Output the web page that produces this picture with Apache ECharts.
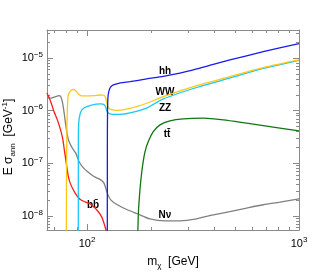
<!DOCTYPE html>
<html><head><meta charset="utf-8">
<script src="https://cdn.jsdelivr.net/npm/echarts@6/dist/echarts.min.js"></script>
<style>html,body{margin:0;padding:0;background:#fff}#c{width:315px;height:275px}</style>
</head><body><div id="c"></div>
<script>
// Axis ranges and tick labels
const xMin = 64.7, xMax = 1000;
const yMin = 5.4e-9, yMax = 3.4e-5;
const xTickLabels = [100, 1000];
const yTickLabels = [1e-8, 1e-7, 1e-6, 1e-5];

// Series data: mass (GeV) and E*sigma_ann (GeV^-1)
const nnMass  = [64.7, 67.4, 71.1, 73.7, 75.1, 76.4, 77.8, 79.3, 80.7, 82.2, 85.2, 88.4, 91.6, 95.0, 100.3, 107.8, 116.0, 120.2, 124.6, 129.3, 138.9, 154.8, 172.6, 198, 233, 274, 329, 394, 472, 566, 678, 813, 1000];
const nnSigma = [1.77e-6, 1.72e-6, 1.85e-6, 1.93e-6, 1.85e-6, 1.48e-6, 9.6e-7, 5.36e-7, 3.46e-7, 2.58e-7, 1.94e-7, 1.56e-7, 1.08e-7, 8.65e-8, 6.96e-8, 5.6e-8, 4.84e-8, 4.19e-8, 2.71e-8, 2.02e-8, 1.63e-8, 1.31e-8, 1.10e-8, 8.8e-9, 8.07e-9, 8.07e-9, 8.8e-9, 1.05e-8, 1.21e-8, 1.41e-8, 1.63e-8, 1.83e-8, 2.11e-8];

const bbMass  = [64.7, 67.4, 69.8, 72.4, 74.5, 76.6, 78.1, 80.2, 81.7, 83.5, 87.7, 92.6, 97.8, 103.3, 111.0, 117.2, 121.5, 124.2];
const bbSigma = [2.17e-6, 1.48e-6, 9.6e-7, 6.67e-7, 4.70e-7, 3.03e-7, 1.80e-7, 8.65e-8, 5.52e-8, 4.06e-8, 2.74e-8, 2.07e-8, 1.85e-8, 1.70e-8, 1.31e-8, 9.6e-9, 6.3e-9, 4.6e-9];

const zzMass  = [90.9, 90.95, 91.2, 91.9, 93.3, 96.7, 104, 116, 120.2, 122.4, 124.6, 129.3, 143, 159.5, 191, 229, 329, 472, 678, 1000];
const zzSigma = [4e-9, 2.78e-7, 5.36e-7, 7.26e-7, 9.44e-7, 1.12e-6, 1.26e-6, 1.34e-6, 1.31e-6, 1.17e-6, 9.44e-7, 8.55e-7, 8.47e-7, 9.04e-7, 1.12e-6, 1.67e-6, 2.75e-6, 4.17e-6, 6.32e-6, 9.04e-6];

const wwMass  = [79.8, 80.0, 80.3, 80.7, 81.3, 82.5, 84.5, 86.3, 88.7, 90.9, 94.3, 100.3, 107.8, 116, 120.2, 122.4, 124.6, 127.3, 131.5, 138.4, 159.5, 191, 229, 329, 472, 678, 1000];
const wwSigma = [4.4e-9, 7.5e-8, 4.3e-7, 1.03e-6, 1.82e-6, 2.21e-6, 2.47e-6, 2.52e-6, 2.37e-6, 2.07e-6, 1.90e-6, 1.90e-6, 1.93e-6, 1.98e-6, 1.96e-6, 1.74e-6, 1.28e-6, 1.10e-6, 1.03e-6, 1.01e-6, 1.10e-6, 1.38e-6, 1.85e-6, 2.98e-6, 4.42e-6, 6.55e-6, 9.16e-6];

const hhMass  = [124.6, 124.65, 124.9, 125.5, 126.9, 129.3, 133.2, 143.8, 159.5, 191, 229, 274, 329, 394, 472, 678, 1000];
const hhSigma = [3e-9, 1.8e-7, 1.03e-6, 1.82e-6, 2.37e-6, 2.82e-6, 3.08e-6, 3.36e-6, 3.55e-6, 4.0e-6, 4.46e-6, 5.13e-6, 6.18e-6, 7.59e-6, 9.16e-6, 1.32e-5, 1.88e-5];

const ttMass  = [173.3, 174.5, 176.4, 179.1, 183, 187.7, 194.5, 205.3, 221, 246, 284, 353, 439, 566, 729, 1000];
const ttSigma = [3e-9, 1.05e-8, 2.18e-8, 4.5e-8, 9.3e-8, 1.67e-7, 2.58e-7, 4.0e-7, 5.36e-7, 6.38e-7, 6.97e-7, 7.18e-7, 6.67e-7, 5.77e-7, 4.97e-7, 4.12e-7];

const seriesNames = ['Nν', 'bb̄', 'ZZ', 'WW', 'hh', 'tt̄'];

// ---------- chart ----------
const FONT = 'Liberation Sans, Arial, Helvetica, sans-serif';
function decadeTicks(lo, hi, minor) {
  const out = [];
  for (let e = -10; e <= 4; e++) {
    const ks = minor ? [2,3,4,5,6,7,8,9] : [1];
    for (const k of ks) {
      const v = k * Math.pow(10, e);
      if (v >= lo * 0.9999 && v <= hi * 1.0001) out.push(v);
    }
  }
  return out;
}
const xMajor = decadeTicks(xMin, xMax, false).map(v => v >= xMax ? xMax : v);
const xMinor = decadeTicks(xMin, xMax, true);
const yMajor = decadeTicks(yMin, yMax, false);
const yMinor = decadeTicks(yMin, yMax, true);

const AX = '#8a8a8a';
const supRich = {
  b: { fontSize: 11, fontFamily: FONT, color: '#000', lineHeight: 15 },
  s: { fontSize: 8, fontFamily: FONT, color: '#000', verticalAlign: 'top', lineHeight: 9 }
};
function expLabel(v) {
  const e = Math.round(Math.log10(v));
  return '{b|10}{s|' + (e < 0 ? '\u2212' + (-e) : e) + '}';
}
function mkX(pos, major, showLabel) {
  return {
    type: 'log', logBase: 10, min: xMin, max: xMax, position: pos, gridIndex: 0,
    axisLine: { show: major, onZero: false, lineStyle: { color: AX, width: 1 } },
    axisTick: { show: true, inside: true, length: major ? 6 : 3, customValues: major ? xMajor : xMinor, lineStyle: { color: AX, width: 1 } },
    axisLabel: { show: showLabel, customValues: xTickLabels, formatter: expLabel, rich: supRich, margin: 6, hideOverlap: false },
    splitLine: { show: false }, minorTick: { show: false }
  };
}
function mkY(pos, major, showLabel) {
  return {
    type: 'log', logBase: 10, min: yMin, max: yMax, position: pos, gridIndex: 0,
    axisLine: { show: major, onZero: false, lineStyle: { color: AX, width: 1 } },
    axisTick: { show: true, inside: true, length: major ? 6 : 3, customValues: major ? yMajor : yMinor, lineStyle: { color: AX, width: 1 } },
    axisLabel: { show: showLabel, customValues: yTickLabels, formatter: expLabel, rich: supRich, margin: 4, hideOverlap: false },
    splitLine: { show: false }, minorTick: { show: false }
  };
}
function pairs(m, s) { return m.map((v, i) => [v, s[i]]); }
function line(name, m, s, color) {
  return {
    name, type: 'line', xAxisIndex: 0, yAxisIndex: 0, data: pairs(m, s),
    showSymbol: false, symbol: 'none', smooth: 0.25, clip: true, silent: true,
    lineStyle: { color, width: 1.3 }, animation: false
  };
}
const labelStyle = (text, x, y) => ({
  type: 'text', x, y, silent: true,
  style: { text, fill: '#000', font: 'bold 10px ' + FONT, align: 'center', verticalAlign: 'middle', textAlign: 'center', textVerticalAlign: 'middle' }
});

const chart = echarts.init(document.getElementById('c'), null, { renderer: 'canvas' });
chart.setOption({
  animation: false,
  backgroundColor: '#fff',
  grid: { left: 47, right: 16, top: 30, bottom: 45, containLabel: false },
  xAxis: [
    Object.assign(mkX('bottom', true, true), {
      name: 'm{sub|χ}  [GeV]', nameLocation: 'middle', nameGap: 22,
      nameTextStyle: { fontSize: 12, fontFamily: FONT, color: '#000', lineHeight: 16,
        rich: { sub: { fontSize: 8, fontFamily: FONT, color: '#000', verticalAlign: 'bottom', lineHeight: 10 } } }
    }),
    mkX('top', true, false), mkX('bottom', false, false), mkX('top', false, false)
  ],
  yAxis: [mkY('left', true, true), mkY('right', true, false), mkY('left', false, false), mkY('right', false, false)],
  series: [
    line(seriesNames[0], nnMass, nnSigma, '#808080'),
    line(seriesNames[1], bbMass, bbSigma, '#ff1a1a'),
    line(seriesNames[2], zzMass, zzSigma, '#19c8f5'),
    line(seriesNames[3], wwMass, wwSigma, '#ffc814'),
    line(seriesNames[4], hhMass, hhSigma, '#1a1aee'),
    line(seriesNames[5], ttMass, ttSigma, '#127512')
  ],
  graphic: [
    labelStyle('hh', 165, 71),
    labelStyle('WW', 165, 92),
    labelStyle('ZZ', 165, 108),
    labelStyle('tt\u0304', 167, 134),
    labelStyle('Nν', 165, 215),
    labelStyle('bb\u0304', 93, 205),
    {
      type: 'text', x: 9, y: 137, rotation: Math.PI / 2, silent: true,
      style: {
        text: 'E σ{sub|ann}  [GeV{sup|-1}]', fill: '#000', font: '12px ' + FONT,
        align: 'center', verticalAlign: 'middle', lineHeight: 16,
        rich: {
          sub: { fontSize: 8, fontFamily: FONT, fill: '#000', verticalAlign: 'bottom', lineHeight: 10 },
          sup: { fontSize: 8, fontFamily: FONT, fill: '#000', verticalAlign: 'top', lineHeight: 10 }
        }
      }
    }
  ]
});
</script></body></html>
